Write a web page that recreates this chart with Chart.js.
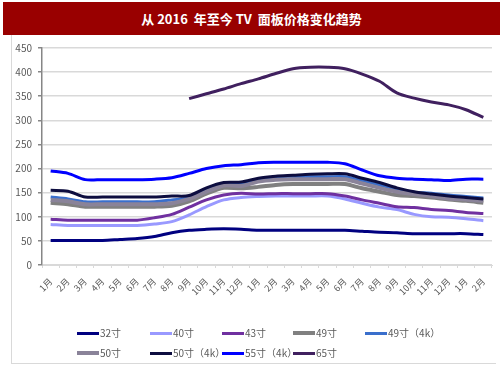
<!DOCTYPE html>
<html><head><meta charset="utf-8">
<script src="https://cdn.jsdelivr.net/npm/chart.js@4"></script>
<style>
html,body{margin:0;padding:0;background:#fff;width:503px;height:378px;overflow:hidden;font-family:"Noto Sans CJK SC","Noto Sans",sans-serif;}
#title{position:absolute;left:3px;top:2px;width:497px;height:33px;background:#990000;color:#fff;font-weight:bold;font-size:13px;line-height:33px;text-align:center;white-space:pre;}
#frame{position:absolute;left:11px;top:35px;width:484px;height:328px;border-left:1px solid #D9D9D9;border-bottom:1px solid #D9D9D9;}
#wrap{position:absolute;left:0;top:0;width:503px;height:378px;}
#legend{position:absolute;left:0;top:0;}
.li{position:absolute;font-size:10px;color:#595959;height:14px;line-height:14px;white-space:nowrap;}
.li span.sw{display:inline-block;width:22px;height:3px;vertical-align:middle;margin-right:1px;position:relative;top:-1px;}
</style></head>
<body>
<div id="title">从 2016  年至今 TV  面板价格变化趋势</div>
<div id="frame"></div>
<div id="wrap"><canvas id="c" width="503" height="378"></canvas></div>
<div id="legend"></div>
<script>
const months = ['1月','2月','3月','4月','5月','6月','7月','8月','9月','10月','11月','12月','1月','2月','3月','4月','5月','6月','7月','8月','9月','10月','11月','12月','1月','2月'];
const seriesNames = ['32寸','40寸','43寸','49寸','49寸（4k）','50寸','50寸（4k）','55寸（4k）','65寸'];
const s32  = [51,51,51,51,53,55,59,67,72,74,75,74,72,72,72,72,72,72,70,68,67,65,65,65,65,63];
const s40  = [84,82,82,82,82,82,85,90,104,121,135,140,142,143,143,143,143,137,128,120,115,105,100,99,96,92];
const s43  = [95,93,93,93,93,93,98,105,120,135,145,149,147,148,148,148,148,143,135,128,121,119,115,113,109,107];
const s49  = [129,126,121,121,121,121,121,123,132,148,160,159,162,166,168,168,168,168,159,152,145,143,140,136,133,129];
const s49k = [141,137,131,131,131,131,131,135,140,157,169,168,176,181,182,183,183,183,175,166,157,151,149,145,142,139];
const s50  = [135,132,126,126,126,126,126,128,137,152,165,164,173,177,178,178,178,178,169,160,152,147,143,138,136,133];
const s50k = [155,153,141,141,141,141,141,143,144,160,171,172,180,184,186,188,189,189,180,171,160,152,147,143,140,137];
const s55k = [195,190,177,177,177,177,178,181,190,200,206,208,212,213,213,213,213,210,197,185,180,178,177,175,178,178];
const s65  = [null,null,null,null,null,null,null,null,345,355,365,376,386,397,407,410,410,407,396,381,357,346,338,332,322,306];
const yTicks = [0,50,100,150,200,250,300,350,400,450];

const allData = [s32,s40,s43,s49,s49k,s50,s50k,s55k,s65];
const colors = ['#000080','#9999FF','#7030A0','#808080','#3A6FCC','#8A8399','#0D0D3F','#0000FF','#40205F'];
const widths = [3,3,3,4,3,4,3,3,3];

const datasets = allData.map((d,i)=>({
  label: seriesNames[i], data: d, borderColor: colors[i], backgroundColor: colors[i],
  borderWidth: widths[i], pointRadius: 0, tension: 0.3, fill:false, order: 20-i, spanGaps:false
}));

const FONT = '"Noto Sans CJK SC","Noto Sans",sans-serif';
new Chart(document.getElementById('c'), {
  type: 'line',
  data: { labels: months, datasets },
  options: {
    responsive: false, animation: false,
    layout: { padding: { left: 12, top: 48, right: 11, bottom: 80 } },
    plugins: { legend: { display: false }, tooltip: { enabled: false } },
    scales: {
      x: {
        offset: true,
        grid: { display: true, drawOnChartArea: false, drawTicks: true, tickLength: 3, color: '#D9D9D9', offset: true },
        border: { display: true, color: '#D9D9D9', width: 1 },
        ticks: { autoSkip: false, minRotation: 45, maxRotation: 45, color: '#595959', font: { family: FONT, size: 9 }, padding: 8 },
        afterFit: s => { s.height = 33; }
      },
      y: {
        min: 0, max: 450,
        afterBuildTicks: s => { s.ticks = yTicks.map(v=>({value:v})); },
        grid: { color: '#D9D9D9', lineWidth: 1.5, tickLength: 4, tickColor: '#868686' },
        border: { display: true, color: '#868686', width: 1.5 },
        ticks: { color: '#595959', font: { family: FONT, size: 10 }, padding: 6 },
        afterFit: s => { s.width = 30; }
      }
    }
  }
});

// legend built from series names/colors
const legendPos = [[77,326],[150,326],[222,326],[293,326],[365,326],[77,346],[150,346],[222,346],[293,346]];
const lg = document.getElementById('legend');
seriesNames.forEach((n,i)=>{
  const el = document.createElement('div');
  el.className = 'li';
  el.style.left = legendPos[i][0]+'px';
  el.style.top = legendPos[i][1]+'px';
  const sw = document.createElement('span');
  sw.className='sw'; sw.style.background = colors[i];
  sw.style.height = widths[i]+'px';
  el.appendChild(sw);
  el.appendChild(document.createTextNode(n));
  lg.appendChild(el);
});
</script>
</body></html>
